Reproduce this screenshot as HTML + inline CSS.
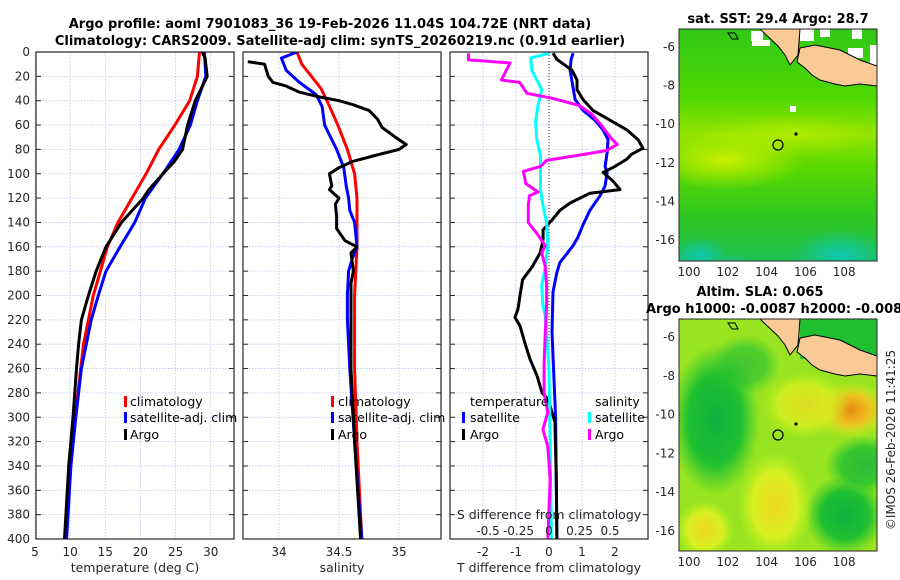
<!DOCTYPE html>
<html><head><meta charset="utf-8">
<style>
html,body{margin:0;padding:0;background:#fff;}
svg{display:block;font-family:"DejaVu Sans","Liberation Sans",sans-serif;}
.tk{font-size:12px;fill:#262626;}
.ttl{font-size:13px;font-weight:bold;fill:#000;}
.lg{font-size:12.5px;fill:#000;}
</style></head>
<body>
<svg id="chart" width="900" height="580" viewBox="0 0 900 580">
<defs>
 <linearGradient id="sstBg" x1="0" y1="0" x2="0" y2="1">
  <stop offset="0" stop-color="#30c818"/><stop offset="0.3" stop-color="#50d800"/>
  <stop offset="0.45" stop-color="#90e400"/><stop offset="0.6" stop-color="#58d800"/>
  <stop offset="0.8" stop-color="#30c820"/><stop offset="1" stop-color="#20c050"/>
 </linearGradient>
 <radialGradient id="sstY" cx="0.5" cy="0.5" r="0.5"><stop offset="0" stop-color="#c8f000"/><stop offset="1" stop-color="#c8f000" stop-opacity="0"/></radialGradient>
 <radialGradient id="sstT" cx="0.5" cy="0.5" r="0.5"><stop offset="0" stop-color="#10c8b0"/><stop offset="1" stop-color="#10c8b0" stop-opacity="0"/></radialGradient>
 <radialGradient id="slaO" cx="0.5" cy="0.5" r="0.5"><stop offset="0" stop-color="#e88a10"/><stop offset="0.5" stop-color="#f0c020"/><stop offset="1" stop-color="#e8f020" stop-opacity="0"/></radialGradient>
 <radialGradient id="slaY" cx="0.5" cy="0.5" r="0.5"><stop offset="0" stop-color="#f0d820"/><stop offset="0.6" stop-color="#d8f020"/><stop offset="1" stop-color="#b0f020" stop-opacity="0"/></radialGradient>
 <radialGradient id="slaG" cx="0.5" cy="0.5" r="0.5"><stop offset="0" stop-color="#10b040"/><stop offset="0.6" stop-color="#20c030"/><stop offset="1" stop-color="#30c830" stop-opacity="0"/></radialGradient>
 <clipPath id="m1c"><rect x="679" y="29" width="198" height="232"/></clipPath>
 <clipPath id="m2c"><rect x="679" y="319" width="198" height="232"/></clipPath>
 <clipPath id="p1c"><rect x="36" y="52" width="198" height="487"/></clipPath>
 <clipPath id="p2c"><rect x="243" y="52" width="198" height="487"/></clipPath>
 <clipPath id="p3c"><rect x="450" y="52" width="198" height="487"/></clipPath>
</defs>
<text class="ttl" x="330" y="28" text-anchor="middle">Argo profile: aoml 7901083_36 19-Feb-2026 11.04S 104.72E (NRT data)</text>
<text class="ttl" x="340" y="45" text-anchor="middle">Climatology: CARS2009. Satellite-adj clim: synTS_20260219.nc (0.91d earlier)</text>
<g id="grid"></g>
<g id="series"></g>
<g id="frames"></g>
<g id="labels"></g>

<g>
 <rect x="124" y="396" width="3" height="11" fill="#ff0000"/><text class="lg" x="130" y="406">climatology</text>
 <rect x="124" y="412" width="3" height="11" fill="#0000ff"/><text class="lg" x="130" y="422">satellite-adj. clim</text>
 <rect x="124" y="429" width="3" height="11" fill="#000"/><text class="lg" x="130" y="439">Argo</text>
</g>
<g>
 <rect x="331" y="396" width="3" height="11" fill="#ff0000"/><text class="lg" x="338" y="406">climatology</text>
 <rect x="331" y="412" width="3" height="11" fill="#0000ff"/><text class="lg" x="338" y="422">satellite-adj. clim</text>
 <rect x="331" y="429" width="3" height="11" fill="#000"/><text class="lg" x="338" y="439">Argo</text>
</g>
<g>
 <text class="lg" x="470" y="406">temperature</text><text class="lg" x="595" y="406">salinity</text>
 <rect x="462" y="412" width="3" height="11" fill="#0000ff"/><text class="lg" x="470" y="422">satellite</text>
 <rect x="462" y="429" width="3" height="11" fill="#000"/><text class="lg" x="470" y="439">Argo</text>
 <rect x="588" y="412" width="3" height="11" fill="#00ffff"/><text class="lg" x="595" y="422">satellite</text>
 <rect x="588" y="429" width="3" height="11" fill="#ff00ff"/><text class="lg" x="595" y="439">Argo</text>
</g>
<text class="tk" x="549" y="519" text-anchor="middle" style="font-size:12.5px">S difference from climatology</text>

<!-- SST map -->
<g clip-path="url(#m1c)">
 <rect x="679" y="29" width="198" height="232" fill="url(#sstBg)"/>
 <ellipse cx="725" cy="160" rx="80" ry="30" fill="url(#sstY)"/>
 <ellipse cx="790" cy="135" rx="90" ry="22" fill="url(#sstY)" opacity="0.6"/>
 <ellipse cx="840" cy="255" rx="50" ry="25" fill="url(#sstT)"/>
 <ellipse cx="700" cy="255" rx="30" ry="18" fill="url(#sstT)"/>
 <ellipse cx="735" cy="265" rx="20" ry="10" fill="url(#sstT)"/>
 <rect x="751" y="31" width="12" height="10" fill="#fff"/><rect x="752" y="40" width="18" height="6" fill="#fff"/>
 <rect x="800" y="29" width="14" height="12" fill="#fff"/><rect x="820" y="29" width="10" height="8" fill="#fff"/>
 <rect x="852" y="29" width="10" height="10" fill="#fff"/><rect x="870" y="45" width="7" height="20" fill="#fff"/>
 <rect x="848" y="48" width="15" height="10" fill="#fff"/><rect x="790" y="106" width="6" height="6" fill="#fff"/>
 <path d="M760,29 L800,29 L798,55 L790,65 L785,55 L778,46 Z" fill="#f9c996" stroke="#000" stroke-width="1"/>
 <path d="M800,48 L815,45 L840,50 L860,60 L877,66 L877,86 L860,84 L845,86 L835,84 L820,80 L812,75 L805,68 L797,62 Z" fill="#f9c996" stroke="#000" stroke-width="1"/>
 <path d="M728,33 L735,33 L738,39 L732,39 Z" fill="none" stroke="#000" stroke-width="1"/>
 <circle cx="778" cy="145" r="5" fill="none" stroke="#000" stroke-width="1.2"/>
 <circle cx="796" cy="134" r="1.6" fill="#000"/>
</g>
<rect x="679" y="29" width="198" height="232" fill="none" stroke="#262626" stroke-width="1"/>
<text class="ttl" x="778" y="23" text-anchor="middle">sat. SST: 29.4 Argo: 28.7</text>

<!-- SLA map -->
<g clip-path="url(#m2c)">
 <rect x="679" y="319" width="198" height="232" fill="#98e420"/>
 <ellipse cx="715" cy="420" rx="45" ry="75" fill="url(#slaG)"/>
 <ellipse cx="745" cy="365" rx="35" ry="30" fill="url(#slaG)" opacity="0.6"/>
 <ellipse cx="845" cy="515" rx="40" ry="40" fill="url(#slaG)"/>
 <ellipse cx="865" cy="465" rx="40" ry="30" fill="url(#slaG)" opacity="0.8"/>
 <ellipse cx="850" cy="410" rx="40" ry="28" fill="url(#slaO)"/>
 <ellipse cx="775" cy="505" rx="38" ry="55" fill="url(#slaY)"/>
 <ellipse cx="705" cy="530" rx="30" ry="30" fill="url(#slaY)"/>
 <ellipse cx="805" cy="405" rx="45" ry="35" fill="url(#slaY)" opacity="0.8"/>
 <rect x="800" y="319" width="77" height="40" fill="#20c030"/>
 <path d="M760,319 L800,319 L798,345 L790,355 L785,345 L778,336 Z" fill="#f9c996" stroke="#000" stroke-width="1"/>
 <path d="M800,338 L815,335 L840,340 L860,350 L877,356 L877,376 L860,374 L845,376 L835,374 L820,370 L812,365 L805,358 L797,352 Z" fill="#f9c996" stroke="#000" stroke-width="1"/>
 <path d="M728,323 L735,323 L738,329 L732,329 Z" fill="none" stroke="#000" stroke-width="1"/>
 <circle cx="778" cy="435" r="5" fill="none" stroke="#000" stroke-width="1.2"/>
 <circle cx="796" cy="424" r="1.6" fill="#000"/>
</g>
<rect x="679" y="319" width="198" height="232" fill="none" stroke="#262626" stroke-width="1"/>
<text class="ttl" x="760" y="296" text-anchor="middle">Altim. SLA: 0.065</text>
<text class="ttl" x="646" y="313">Argo h1000: -0.0087 h2000: -0.008</text>
<text class="tk" transform="translate(895,440) rotate(-90)" text-anchor="middle">©IMOS 26-Feb-2026 11:41:25</text>
</svg>
<script>
const depthTicks = [0,20,40,60,80,100,120,140,160,180,200,220,240,260,280,300,320,340,360,380,400];
const tempTicks = [5,10,15,20,25,30];
const salTicks = [34,34.5,35];
const tdiffTicks = [-2,-1,0,1,2];
const sdiffTicks = [-0.5,-0.25,0,0.25,0.5];
const sdiffTickLabels = ['-0.5','-0.25','0','0.25','0.5'];
const latTicks = [-6,-8,-10,-12,-14,-16];
const lonTicks = [100,102,104,106,108];

const climTD = [0,20,40,60,80,100,120,140,160,180,200,220,240,260,300,340,400];
const climT  = [28.4,28.1,27.0,24.9,22.6,20.8,18.8,16.8,15.3,14.3,13.3,12.6,11.9,11.5,10.7,10.0,9.4];
const satTD  = [0,20,40,60,80,100,120,140,160,180,200,220,240,260,300,340,400];
const satT   = [29.1,29.3,28.1,27.1,25.5,23.2,20.7,19.2,17.1,15.1,14.0,13.0,12.3,11.6,10.8,10.1,9.5];
const argoTD = [0,5,20,40,60,80,90,100,113,120,140,160,180,200,220,240,260,300,340,400];
const argoT  = [28.8,29.2,29.5,27.8,26.7,26.0,24.8,23.2,21.2,20.4,17.3,15.1,13.7,12.6,11.6,11.2,10.9,10.4,9.8,9.2];

const climSD = [0,10,20,30,40,60,80,100,120,140,160,200,260,320,400];
const climS  = [34.15,34.19,34.27,34.35,34.40,34.49,34.57,34.63,34.65,34.65,34.65,34.63,34.63,34.65,34.69];
const satSD  = [0,5,15,25,35,45,60,80,95,110,120,130,140,160,170,180,200,220,260,320,400];
const satS   = [34.15,34.02,34.06,34.17,34.31,34.36,34.38,34.48,34.54,34.56,34.58,34.59,34.63,34.65,34.61,34.58,34.57,34.57,34.59,34.63,34.69];
const argoSD = [8,10,20,25,28,33,37,40,43,48,55,62,70,76,80,85,90,95,100,105,110,113,120,125,135,145,155,160,165,180,190,200,260,320,400];
const argoS  = [33.74,33.88,33.91,33.95,34.06,34.17,34.34,34.50,34.61,34.75,34.82,34.86,34.97,35.06,35.00,34.80,34.61,34.50,34.42,34.43,34.44,34.42,34.50,34.47,34.48,34.48,34.55,34.65,34.60,34.62,34.60,34.60,34.60,34.63,34.68];

const dTD     = [1,6,15,23,31,39,48,56,64,72,79,84,88,94,99,106,113,116,120,124,130,138,146,154,165,176,187,200,211,218,225,239,252,266,280,285,304,350,400];
const argoDT  = [0.12,0.24,0.7,0.85,0.85,1.03,1.33,1.85,2.36,2.7,2.85,2.5,2.36,2.0,1.64,1.94,2.15,1.24,0.94,0.64,0.33,0.09,-0.18,-0.18,-0.27,-0.5,-0.8,-0.88,-0.94,-1.03,-0.88,-0.73,-0.58,-0.36,-0.21,-0.03,0.18,0.22,0.24];
const sDTD    = [1,6,15,39,48,56,64,72,83,94,99,110,118,130,142,152,159,173,181,197,230,300,400];
const satDT   = [0.73,0.67,0.64,0.79,1.03,1.39,1.64,1.79,1.76,1.70,1.76,1.70,1.55,1.24,1.03,0.88,0.73,0.33,0.24,0.12,0.09,0.2,0.24];
const cDSD    = [1,5,15,31,44,57,72,85,99,113,126,140,159,176,192,208,217,260,320,400];
const satDS   = [0.0,-0.15,-0.14,-0.06,-0.09,-0.11,-0.10,-0.07,-0.07,-0.07,-0.05,-0.02,-0.01,-0.03,-0.06,-0.05,-0.03,0.0,0.01,0.02];
const mDSD    = [1,6.5,9,23,25,34,38,44,51,59,67,72,76,81,85,89,94,98,108,115,118,126,140,149,159,165,176,192,208,230,257,280,296,310,324,351,400];
const argoDS  = [-0.66,-0.66,-0.32,-0.39,-0.24,-0.18,0.03,0.25,0.35,0.42,0.48,0.52,0.56,0.47,0.23,-0.02,-0.07,-0.21,-0.19,-0.09,-0.16,-0.17,-0.17,-0.10,-0.03,-0.06,-0.03,-0.02,-0.02,-0.03,-0.04,-0.04,-0.01,-0.05,-0.01,0.01,-0.01];

const yTop=52, yBot=539;
function yD(d){return yTop + d*(yBot-yTop)/400;}
const P1={x0:36,x1:234}, P2={x0:243,x1:441}, P3={x0:450,x1:648};
function xT(t){return 35 + (t-5)*7.03;}
function xS(s){return 279 + (s-34)*120;}
function xDT(t){return 549 + t*33;}
function xDS(s){return 549 + s*122;}
function yLat1(l){return 47 + (-6-l)*19.3;}
function yLat2(l){return 337 + (-6-l)*19.4;}
function xLon(l){return 689 + (l-100)*19.4;}

const NS='http://www.w3.org/2000/svg';
function mk(tag, attrs, parent){const e=document.createElementNS(NS,tag);for(const k in attrs)e.setAttribute(k,attrs[k]);parent.appendChild(e);return e;}
const gGrid=document.getElementById('grid'), gSer=document.getElementById('series'), gFr=document.getElementById('frames'), gLab=document.getElementById('labels');

[P1,P2,P3].forEach(function(p,i){
  depthTicks.forEach(function(d){
    const l=mk('line',{x1:p.x0,x2:p.x1,y1:yD(d),y2:yD(d),stroke:'#b8c4e8','stroke-width':0.8,'stroke-dasharray':'1.5,1.5'},gGrid);
    
    
    mk('line',{x1:p.x0,x2:p.x0+5,y1:yD(d),y2:yD(d),stroke:'#262626'},gFr);
    mk('line',{x1:p.x1-5,x2:p.x1,y1:yD(d),y2:yD(d),stroke:'#262626'},gFr);
  });
  const fr=mk('rect',{x:p.x0,y:yTop,width:p.x1-p.x0,height:yBot-yTop,fill:'none',stroke:'#262626','stroke-width':1.2},gFr);
  
  
});
depthTicks.forEach(function(d){
  const t=mk('text',{x:30,y:yD(d)+4,'text-anchor':'end','class':'tk'},gLab);
  t.textContent=d;
  
  
});
function xTicks(ticks, fx, labels, y, p, grid){
  ticks.forEach(function(v,i){
    const x=fx(v);
    if(grid){const g=mk('line',{x1:x,x2:x,y1:yTop,y2:yBot,stroke:'#b8c4e8','stroke-width':0.8,'stroke-dasharray':'1.5,1.5'},gGrid);
      
      }
    const t=mk('text',{x:x,y:y,'text-anchor':'middle','class':'tk'},gLab);
    t.textContent=labels?labels[i]:v;
    
    
  });
}
xTicks(tempTicks,xT,null,556,P1,true);
xTicks(salTicks,xS,null,556,P2,true);
xTicks(tdiffTicks,xDT,null,556,P3,true);
xTicks(sdiffTicks,xDS,sdiffTickLabels,535,P3,false);
[['temperature (deg C)',135,'temperature-axis-title'],['salinity',342,'salinity-axis-title'],['T difference from climatology',549,'t-diff-axis-title']].forEach(function(a){
  const t=mk('text',{x:a[1],y:572,'text-anchor':'middle','class':'tk',style:'font-size:12.5px'},gLab);
  t.textContent=a[0];
  
  
});
const z=mk('line',{x1:xDT(0),x2:xDT(0),y1:yTop,y2:yBot,stroke:'#555','stroke-dasharray':'1,2','stroke-width':1.2},gGrid);



function series(ds, vs, fx, color, clip, name){
  const pts=ds.map(function(d,i){return fx(vs[i]).toFixed(1)+','+yD(d).toFixed(1);}).join(' ');
  const pl=mk('polyline',{points:pts,fill:'none',stroke:color,'stroke-width':3,'stroke-linejoin':'round','clip-path':'url(#'+clip+')'},gSer);
  
  
}
series(climTD,climT,xT,'#ff0000','p1c','temp-climatology-line');
series(satTD,satT,xT,'#0000ff','p1c','temp-satellite-line');
series(argoTD,argoT,xT,'#000000','p1c','temp-argo-line');
series(climSD,climS,xS,'#ff0000','p2c','sal-climatology-line');
series(satSD,satS,xS,'#0000ff','p2c','sal-satellite-line');
series(argoSD,argoS,xS,'#000000','p2c','sal-argo-line');
series(sDTD,satDT,xDT,'#0000ff','p3c','tdiff-satellite-line');
series(dTD,argoDT,xDT,'#000000','p3c','tdiff-argo-line');
series(cDSD,satDS,xDS,'#00ffff','p3c','sdiff-satellite-line');
series(mDSD,argoDS,xDS,'#ff00ff','p3c','sdiff-argo-line');

[[yLat1,261],[yLat2,551]].forEach(function(m){
  latTicks.forEach(function(l){
    const y=m[0](l);
    mk('line',{x1:679,x2:683,y1:y,y2:y,stroke:'#262626'},gFr);
    mk('line',{x1:873,x2:877,y1:y,y2:y,stroke:'#262626'},gFr);
    const t=mk('text',{x:675,y:y+4,'text-anchor':'end','class':'tk'},gLab);
    t.textContent=l;
    
    
  });
  lonTicks.forEach(function(l){
    const x=xLon(l);
    mk('line',{x1:x,x2:x,y1:m[1]-4,y2:m[1],stroke:'#262626'},gFr);
    const t=mk('text',{x:x,y:m[1]+15,'text-anchor':'middle','class':'tk'},gLab);
    t.textContent=l;
    
    
  });
});
</script>
</body></html>
